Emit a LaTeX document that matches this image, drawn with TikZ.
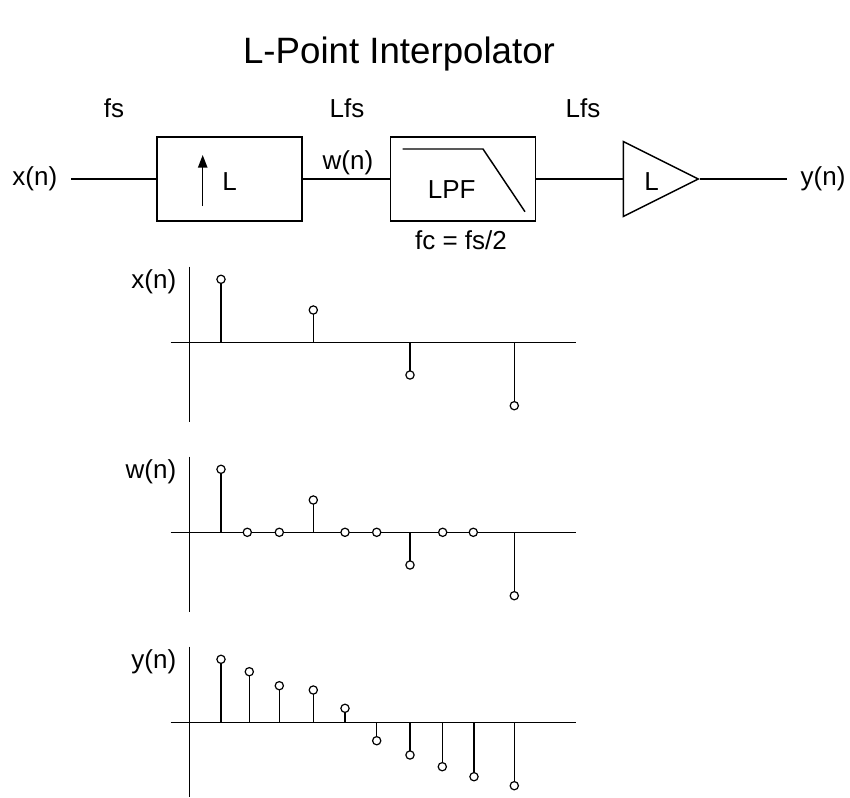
\documentclass[tikz,border=0pt]{standalone}
\usepackage{fontspec}
\setmainfont{Liberation Sans}
\usetikzlibrary{shapes.geometric,arrows.meta}
\begin{document}
\begin{tikzpicture}[x=0.75pt,y=-0.75pt,
  line width=1.1pt,
  lbl/.style={font=\fontsize{19.5}{22}\selectfont, inner sep=0pt},
  blk/.style={draw, rectangle, minimum width=108.75pt, minimum height=63pt, inner sep=0pt},
  ampbox/.style={draw, isosceles triangle, isosceles triangle stretches, minimum width=56.25pt, minimum height=56.25pt, inner sep=0pt},
  dotc/.style={draw, fill=white, line width=0.9pt},
  axisline/.style={line width=1.1pt}]
\useasboundingbox (0,0) rectangle (850,797);

% title
\node[font=\fontsize{27.5}{32}\selectfont, anchor=base, inner sep=0pt] (title) at (399,63) {L-Point Interpolator};

% block diagram
\coordinate (xin) at (71,179);
\coordinate (yout) at (786.7,179);
\node[lbl, anchor=east] (xlbl) at (58,179) {x(n)};
\node[lbl, anchor=west] (ylbl) at (800,179) {y(n)};
\node[blk] (up) at (229.5,179) {};
\node[blk] (lpf) at (463,179) {};
\node[ampbox] (amp) at (646.5,179) {};

\draw (xin) -- (up);
\draw (up) -- (lpf);
\draw (lpf) -- (amp);
\draw (amp) -- (yout);

% upsampler content
\coordinate (arrb) at (202.7,206);
\coordinate (arrt) at (202.7,155);
\draw[-{Triangle[length=9.5pt,width=7pt]}] (arrb) -- (arrt);
\node[lbl] (upL) at (229.5,181.7) {L};

% LPF content
\draw (402.7,149) -- (483,149) -- (525,211.7);
\node[lbl] (lpft) at (451.7,190) {LPF};
\node[lbl] (fc) at (461,240) {fc = fs/2};

% amplifier text
\node[lbl] (ampL) at (651.7,181.7) {L};

% rate labels
\node[lbl] (fs1) at (114,108) {fs};
\node[lbl] (fs2) at (347,108) {Lfs};
\node[lbl] (fs3) at (583,108) {Lfs};
\node[lbl] (wlbl) at (348,163) {w(n)};

% stem plot 1: x(n)
\node[lbl, anchor=east] (px) at (177,282) {x(n)};
\draw[axisline] (189.3,266.7) -- (189.3,421.7);
\draw[axisline] (170.7,342.3) -- (576,342.3);
\foreach \xx/\yy in {221/279.3, 313.3/310, 410/375, 514.3/405.7}{
  \draw (\xx,342.3) -- (\xx,\yy);
  \draw[dotc] (\xx,\yy) circle[radius=3.1pt];
}

% stem plot 2: w(n)
\node[lbl, anchor=east] (pw) at (177,472) {w(n)};
\draw[axisline] (189.3,456.7) -- (189.3,611.7);
\draw[axisline] (170.7,532.3) -- (576,532.3);
\foreach \xx/\yy in {221/469.3, 247.3/532.3, 279.3/532.3, 313.3/500, 345/532.3, 376.7/532.3, 410/565, 442.7/532.3, 473.3/532.3, 514.3/595.7}{
  \draw (\xx,532.3) -- (\xx,\yy);
  \draw[dotc] (\xx,\yy) circle[radius=3.1pt];
}

% stem plot 3: y(n)
\node[lbl, anchor=east] (py) at (177,662) {y(n)};
\draw[axisline] (189.3,646.7) -- (189.3,797);
\draw[axisline] (170.7,722.3) -- (576,722.3);
\foreach \xx/\yy in {221/659.3, 249.3/671.7, 279.3/685.7, 313.3/690, 345/708.3, 376.7/740.7, 410/755, 442.3/766.7, 474/776.7, 514.3/785.7}{
  \draw (\xx,722.3) -- (\xx,\yy);
  \draw[dotc] (\xx,\yy) circle[radius=3.1pt];
}
\end{tikzpicture}
\end{document}
